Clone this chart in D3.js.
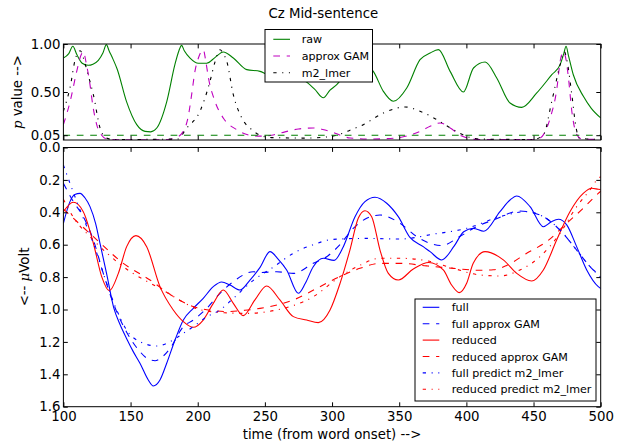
<!DOCTYPE html>
<html><head><meta charset="utf-8">
<script src="https://cdn.jsdelivr.net/npm/d3@7"></script>
<style>body{margin:0;background:#fff}svg{display:block}text{font-family:"DejaVu Sans",sans-serif}</style>
</head><body><svg id="c" width="619" height="443"></svg>
<script>
// ---- tick labels ----
const xTicks = [100,150,200,250,300,350,400,450,500];
const pTicks = [0.05,0.5,1.0];
const pTickLabels = ["0.05","0.50","1.00"];
const vTicks = [0,0.2,0.4,0.6,0.8,1.0,1.2,1.4,1.6];

// ---- top panel: p values ----
const rawT = [100,104,107,110,114,118.5,122,126,129.5,132,134,137,140,147,154.6,160.8,165,169.5,177,183,186,188,190,194.3,200.5,206.7,213,219,226.5,236.5,246.4,252,262,272,280,287,293.5,298.5,303.5,310,318,324,330.7,338.2,345.6,355.6,365.5,373,379.2,387.9,397.8,405.3,414,422.6,432.5,441.2,452.4,463.6,469.8,472.5,474.2,476,479.6,487.1,493,500];
const rawP = [0.854,0.90,0.976,0.89,0.80,0.778,0.79,0.83,0.91,0.993,0.93,0.84,0.74,0.40,0.16,0.09,0.085,0.125,0.403,0.785,0.93,0.986,0.93,0.854,0.80,0.80,0.861,0.917,0.854,0.733,0.715,0.68,0.66,0.64,0.611,0.53,0.44,0.52,0.576,0.69,0.80,0.79,0.715,0.507,0.403,0.542,0.837,0.906,0.941,0.715,0.50,0.75,0.813,0.646,0.385,0.34,0.49,0.68,0.785,0.90,0.976,0.88,0.68,0.455,0.33,0.23];

const gamT = [100,105,110,113,114.8,117,119.8,122,124.8,128.5,132,140,175,183,189.3,193,195.5,198,200.5,202.5,204.2,206,208,212.9,219,229,238.9,246.4,255,265,275,286,293,301,306,313.4,328,348,355,360.5,367,373,380.5,388,395.4,403,410,450,455,457.4,462.4,467.4,469.8,472.3,474,476,478.5,482.2,486,500];
const gamP = [0.16,0.40,0.72,0.88,0.92,0.80,0.576,0.35,0.16,0.05,0.012,0.003,0.003,0.02,0.09,0.25,0.476,0.72,0.854,0.92,0.94,0.82,0.646,0.40,0.229,0.108,0.049,0.04,0.05,0.085,0.115,0.125,0.11,0.078,0.05,0.021,0.01,0.021,0.04,0.062,0.10,0.142,0.177,0.125,0.049,0.014,0.005,0.005,0.02,0.056,0.229,0.54,0.82,0.92,0.85,0.646,0.30,0.056,0.01,0.005];

const lmerT = [100,105,109,112.5,116,119,122.3,127.3,132,137,185,191.8,201.7,205,209.1,213,216.6,219,221.6,226.5,232.8,240.2,246.4,255,280,295,303.5,313,323.3,338.2,354.4,365.5,378,390.3,400.3,410,450,457.4,463.6,469.8,472.9,475,478.5,481.7,484,500];
const lmerP = [0.30,0.55,0.85,0.93,0.80,0.65,0.472,0.125,0.02,0.005,0.01,0.125,0.30,0.42,0.61,0.82,0.94,0.90,0.82,0.472,0.229,0.108,0.049,0.025,0.02,0.03,0.049,0.10,0.16,0.281,0.344,0.30,0.212,0.108,0.038,0.01,0.005,0.056,0.403,0.785,0.92,0.82,0.472,0.125,0.02,0.005];

const alphaLevel = 0.05;

// ---- bottom panel: microvolts ----
const fullT = [100,104.9,108.5,112.4,116,119.8,124,127.2,132.2,137.5,142,147.1,152,157,163.2,166.9,171.9,176.9,183.1,189.3,196.7,204.1,211.6,217.8,224,231.5,238.9,246.4,253.8,260,266.2,274.9,280,286,293.5,301.5,308.4,317.1,324.5,332,340.7,349.3,358,367.9,373,381.6,391,398,405.1,413,425,432.5,437.5,447.4,457.3,463,468.5,474.7,482.1,489.6,498.2,500];
const fullV = [0.468,0.334,0.29,0.283,0.31,0.365,0.47,0.59,0.78,0.99,1.09,1.18,1.26,1.332,1.435,1.472,1.435,1.332,1.188,1.065,0.993,0.931,0.859,0.83,0.849,0.88,0.818,0.74,0.643,0.69,0.756,0.9,0.84,0.736,0.684,0.697,0.612,0.427,0.334,0.307,0.344,0.427,0.555,0.612,0.643,0.694,0.607,0.52,0.499,0.517,0.396,0.324,0.299,0.365,0.489,0.46,0.443,0.478,0.612,0.756,0.859,0.87];

const fullGamT = [100,107.4,114.8,122.3,129.7,137.2,147.1,157,162,168.2,174,179.4,189.3,196.7,206.7,216.6,226.5,241.4,246.4,258.8,271.2,286,296,305.9,315.8,325.8,335.7,350.6,363,381.5,395,407.4,420,439.9,454.8,469.7,482.1,494.5,500];
const fullGamV = [0.221,0.334,0.427,0.571,0.777,0.962,1.14,1.26,1.30,1.316,1.29,1.24,1.106,1.065,0.993,0.9,0.828,0.767,0.772,0.767,0.777,0.715,0.674,0.6,0.499,0.437,0.417,0.468,0.55,0.605,0.55,0.489,0.448,0.392,0.417,0.51,0.633,0.756,0.79];

const redT = [100,107.4,114.8,122.3,128.5,134.2,140.9,147.1,154,162,171.9,181.8,189.3,196.7,204.1,211.6,219,226.5,233.9,242.6,251.3,261.2,271.2,281.1,289.8,298.5,305.9,313.3,319.5,324.5,329.5,335.7,341.9,349.3,360.5,372,382.8,389,394.7,400.2,405.1,413.9,427.5,437.5,448.6,457.3,467.2,477.1,487,493.3,498.2,500];
const redV = [0.396,0.338,0.396,0.591,0.797,0.884,0.777,0.612,0.544,0.612,0.859,1.003,1.075,1.11,1.065,0.962,0.88,0.962,1.038,0.941,0.855,0.941,1.044,1.065,1.081,1.003,0.84,0.633,0.437,0.39,0.427,0.633,0.777,0.818,0.75,0.71,0.756,0.849,0.896,0.838,0.715,0.643,0.694,0.777,0.824,0.756,0.571,0.396,0.283,0.252,0.258,0.26];

const redGamT = [100,122.3,144.6,164.5,180,196.7,210,221.6,235,246.4,260,271.2,291,305.9,320.8,335.7,350.6,370.5,390.3,410.2,420,430,444.9,459.8,474.7,487,498.2,500];
const redGamV = [0.38,0.55,0.715,0.818,0.91,0.982,1.005,1.013,1.005,0.993,0.97,0.941,0.859,0.797,0.746,0.715,0.715,0.731,0.746,0.758,0.755,0.728,0.653,0.581,0.468,0.375,0.283,0.27];

const fullLmerT = [100,104.9,112.4,122.3,132.2,139.7,147.1,157,169.5,179.4,189.3,196.7,206.7,216.6,226.5,241.4,256,271.2,286,300.9,325.8,350.6,375.4,400.2,425,444.9,457.3,469.7,482.1,493.3,500];
const fullLmerV = [0.108,0.221,0.386,0.591,0.838,1.003,1.127,1.199,1.225,1.199,1.147,1.106,1.045,1.003,0.931,0.82,0.74,0.653,0.60,0.567,0.561,0.565,0.535,0.499,0.427,0.396,0.427,0.509,0.633,0.746,0.80];

const redLmerT = [100,107.4,122.3,144.6,171.9,202.7,220,236.5,256.3,286,305.9,320,335.7,350.6,370.5,390.3,410.2,425,439.9,454.8,469.7,482.1,492,498.2,500];
const redLmerV = [0.32,0.43,0.571,0.736,0.87,1.003,1.02,1.024,1.007,0.921,0.797,0.73,0.684,0.684,0.699,0.746,0.787,0.793,0.756,0.674,0.53,0.365,0.262,0.19,0.18];

// ---- styles ----
const DASH = "6.7,6.7", DASHDOT = "3.3,5.6,1.1,5.6";
const topSeries = [
  {name:"raw", t:rawT, v:rawP, color:"#008000", dash:null},
  {name:"approx GAM", t:gamT, v:gamP, color:"#bf00bf", dash:DASH},
  {name:"m2_lmer", t:lmerT, v:lmerP, color:"#000000", dash:DASHDOT}
];
const botSeries = [
  {name:"full", t:fullT, v:fullV, color:"#0000ff", dash:null},
  {name:"full approx GAM", t:fullGamT, v:fullGamV, color:"#0000ff", dash:DASH},
  {name:"reduced", t:redT, v:redV, color:"#ff0000", dash:null},
  {name:"reduced approx GAM", t:redGamT, v:redGamV, color:"#ff0000", dash:DASH},
  {name:"full predict m2_lmer", t:fullLmerT, v:fullLmerV, color:"#0000ff", dash:DASHDOT},
  {name:"reduced predict m2_lmer", t:redLmerT, v:redLmerV, color:"#ff0000", dash:DASHDOT}
];

const svg = d3.select("#c");
const L = 63.4, R = 600.7;
const x = d3.scaleLinear().domain([100,500]).range([L,R]);
const yp = d3.scaleLinear().domain([0,1]).range([140,44]);
const yv = d3.scaleLinear().domain([0,1.6]).range([147.5,406.7]);
const FS = 13.3, TK = 4.4;

const defs = svg.append("defs");
defs.append("clipPath").attr("id","ct").append("rect").attr("x",L).attr("y",44).attr("width",R-L).attr("height",96);
defs.append("clipPath").attr("id","cb").append("rect").attr("x",L).attr("y",147.5).attr("width",R-L).attr("height",406.7-147.5);

function drawLines(g, series, y){
  series.forEach(s=>{
    const pts = s.t.map((t,i)=>[t,s.v[i]]);
    g.append("path").datum(pts)
      .attr("d", d3.line().x(d=>x(d[0])).y(d=>y(d[1])).curve(d3.curveMonotoneX))
      .attr("fill","none").attr("stroke",s.color).attr("stroke-width",1.1)
      .attr("stroke-dasharray", s.dash);
  });
}

function axes(yScale, yTop, yBot, yT, yLabels, showX){
  const gL = svg.append("g").attr("transform",`translate(${L},0)`)
    .call(d3.axisLeft(yScale).tickValues(yT).tickSize(-TK).tickSizeOuter(0).tickPadding(3)
      .tickFormat((d,i)=>yLabels[i]));
  const gR = svg.append("g").attr("transform",`translate(${R},0)`)
    .call(d3.axisRight(yScale).tickValues(yT).tickSize(-TK).tickSizeOuter(0).tickFormat(""));
  const gT = svg.append("g").attr("transform",`translate(0,${yTop})`)
    .call(d3.axisTop(x).tickValues(xTicks).tickSize(-TK).tickSizeOuter(0).tickFormat(""));
  const gB = svg.append("g").attr("transform",`translate(0,${yBot})`)
    .call(d3.axisBottom(x).tickValues(xTicks).tickSize(-TK).tickSizeOuter(0).tickPadding(5)
      .tickFormat(showX ? d3.format("d") : ""));
  [gL,gR,gT,gB].forEach(g=>{
    g.select(".domain").remove();
    g.selectAll("line").attr("stroke","#000").attr("stroke-width",1);
    g.selectAll("text").attr("font-size",FS).attr("fill","#000").attr("font-family","DejaVu Sans");
  });
  svg.append("rect").attr("x",L).attr("y",yTop).attr("width",R-L).attr("height",yBot-yTop)
    .attr("fill","none").attr("stroke","#000").attr("stroke-width",1);
}

// top panel lines
const gt = svg.append("g").attr("clip-path","url(#ct)");
drawLines(gt, topSeries, yp);
gt.append("line").attr("x1",L).attr("x2",R).attr("y1",yp(alphaLevel)).attr("y2",yp(alphaLevel))
  .attr("stroke","#008000").attr("stroke-width",1.1).attr("stroke-dasharray",DASH);

// bottom panel lines
const gb = svg.append("g").attr("clip-path","url(#cb)");
drawLines(gb, botSeries, yv);

axes(yp, 44, 140, pTicks, pTickLabels, false);
axes(yv, 147.5, 406.7, vTicks, vTicks.map(d=>d.toFixed(1)), true);

// title & labels
svg.append("text").attr("x",323.3).attr("y",18).attr("text-anchor","middle")
  .attr("font-size",FS).text("Cz Mid-sentence");
svg.append("text").attr("x",332).attr("y",439).attr("text-anchor","middle")
  .attr("font-size",FS).text("time (from word onset) -->");

const yl1 = svg.append("text").attr("transform","translate(21.5,92) rotate(-90)")
  .attr("text-anchor","middle").attr("font-size",FS);
yl1.append("tspan").attr("font-family","DejaVu Serif").attr("font-style","italic").text("p");
yl1.append("tspan").text(" value  -->");

const yl2 = svg.append("text").attr("transform","translate(29,277) rotate(-90)")
  .attr("text-anchor","middle").attr("font-size",FS);
yl2.append("tspan").text("<--  ");
yl2.append("tspan").attr("font-family","DejaVu Serif").attr("font-style","italic").text("\u03bc");
yl2.append("tspan").text("Volt");

// legends
function legend(series, bx, by, bw, bh, lx0, lx1, tx, y0, dy){
  const g = svg.append("g");
  g.append("rect").attr("x",bx).attr("y",by).attr("width",bw).attr("height",bh)
    .attr("fill","#fff").attr("stroke","#000").attr("stroke-width",1);
  series.forEach((s,i)=>{
    const yy = y0 + i*dy;
    g.append("line").attr("x1",lx0).attr("x2",lx1).attr("y1",yy).attr("y2",yy)
      .attr("stroke",s.color).attr("stroke-width",1.1).attr("stroke-dasharray",s.dash);
    g.append("text").attr("x",tx).attr("y",yy+4).attr("font-size",11.1).text(s.name);
  });
}
legend(topSeries, 265, 29.5, 107.5, 52.5, 273.3, 290, 301.7, 39.3, 16.7);
legend(botSeries, 415, 299, 181, 102, 422.7, 439.3, 451.7, 307.3, 16.4);
</script></body></html>
